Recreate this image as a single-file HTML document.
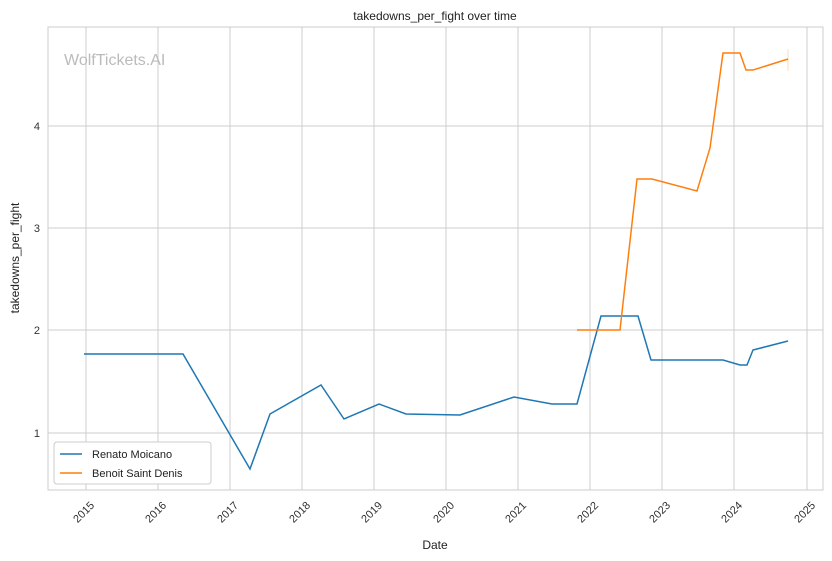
<!DOCTYPE html>
<html><head><style>body{margin:0;background:#fff}svg{display:block;font-family:"Liberation Sans","DejaVu Sans",sans-serif}</style></head><body>
<svg width="832" height="561" viewBox="0 0 832 561">
<rect width="832" height="561" fill="#fff"/>
<g stroke="#cccccc" stroke-width="1">
<line x1="86" y1="27" x2="86" y2="490"/><line x1="158" y1="27" x2="158" y2="490"/><line x1="230" y1="27" x2="230" y2="490"/><line x1="302" y1="27" x2="302" y2="490"/><line x1="374" y1="27" x2="374" y2="490"/><line x1="446" y1="27" x2="446" y2="490"/><line x1="518" y1="27" x2="518" y2="490"/><line x1="590" y1="27" x2="590" y2="490"/><line x1="662" y1="27" x2="662" y2="490"/><line x1="734" y1="27" x2="734" y2="490"/><line x1="807" y1="27" x2="807" y2="490"/>
<line x1="48" y1="433" x2="823" y2="433"/><line x1="48" y1="330" x2="823" y2="330"/><line x1="48" y1="228" x2="823" y2="228"/><line x1="48" y1="126" x2="823" y2="126"/>
</g>
<rect x="48" y="27" width="775" height="463" fill="none" stroke="#cccccc"/>
<text x="64" y="65" font-size="16" fill="#bbbbbb">WolfTickets.AI</text>
<polyline fill="none" stroke="#1f77b4" stroke-width="1.5" points="84,354 183,354 250,469 270,414 321,385 344,419 379,404 406,414 460,415 514,397 552,404 577,404 601,316 638,316 651,360 723,360 740,365 747,365 753,350 788,341"/>
<polyline fill="none" stroke="#ff7f0e" stroke-width="1.5" points="577,330 620,330 637,179 652,179 697,191 710,148 723,53 740,53 746,70 753,70 788,59"/>
<line x1="788" y1="49" x2="788" y2="71" stroke="#ff7f0e" stroke-opacity="0.3"/>
<g font-size="11" fill="#333" text-anchor="end">
<text x="40" y="437">1</text><text x="40" y="334">2</text><text x="40" y="232">3</text><text x="40" y="130">4</text>
</g>
<g font-size="11" fill="#333" text-anchor="end">
<text transform="translate(95,506) rotate(-45)">2015</text><text transform="translate(167,506) rotate(-45)">2016</text><text transform="translate(239,506) rotate(-45)">2017</text><text transform="translate(311,506) rotate(-45)">2018</text><text transform="translate(383,506) rotate(-45)">2019</text><text transform="translate(455,506) rotate(-45)">2020</text><text transform="translate(527,506) rotate(-45)">2021</text><text transform="translate(599,506) rotate(-45)">2022</text><text transform="translate(671,506) rotate(-45)">2023</text><text transform="translate(743,506) rotate(-45)">2024</text><text transform="translate(816,506) rotate(-45)">2025</text>
</g>
<text x="435" y="549" font-size="12" fill="#222" text-anchor="middle">Date</text>
<text transform="translate(19,258) rotate(-90)" font-size="12" fill="#222" text-anchor="middle">takedowns_per_fight</text>
<text x="435" y="20" font-size="12" fill="#222" text-anchor="middle">takedowns_per_fight over time</text>
<rect x="54" y="442" width="157" height="42" rx="3" fill="#fff" stroke="#cccccc"/>
<line x1="60" y1="454" x2="82" y2="454" stroke="#1f77b4" stroke-width="1.5"/>
<line x1="60" y1="473" x2="82" y2="473" stroke="#ff7f0e" stroke-width="1.5"/>
<g font-size="11" fill="#222"><text x="92" y="458">Renato Moicano</text><text x="92" y="477">Benoit Saint Denis</text></g>
</svg>
</body></html>
